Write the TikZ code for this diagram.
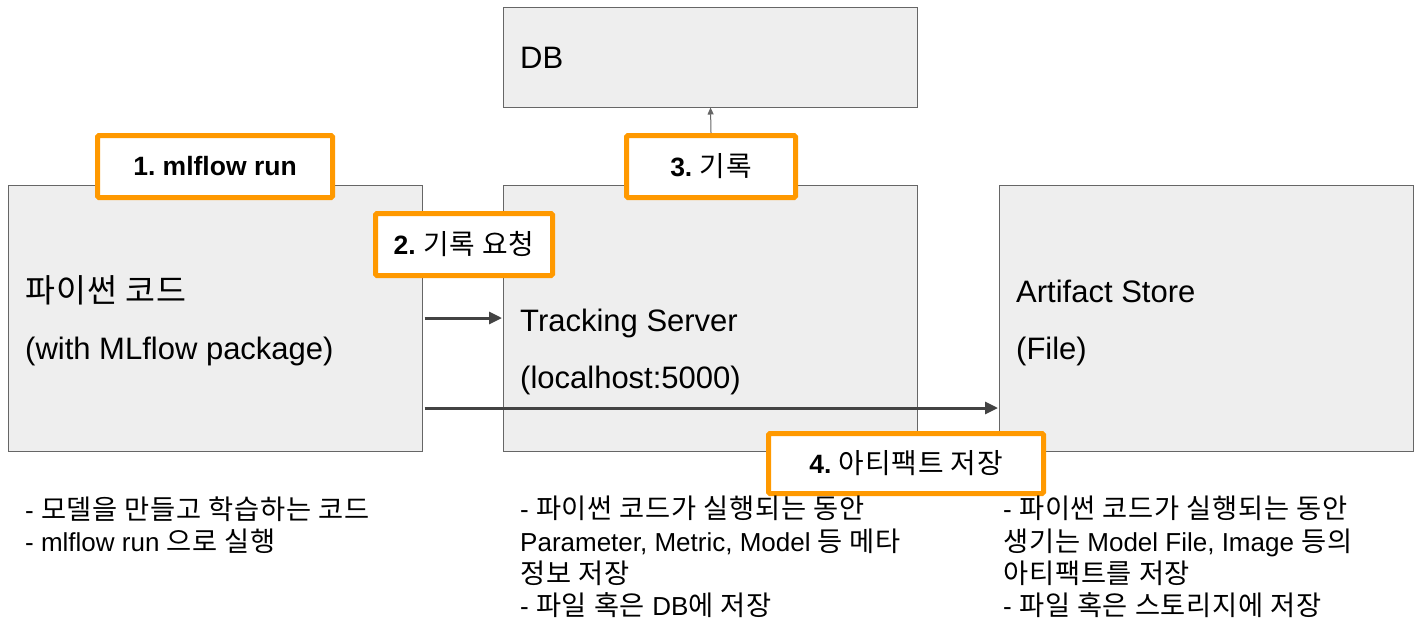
\documentclass[tikz,border=0pt]{standalone}
\usepackage{fontspec}
\setmainfont{Liberation Sans}
\newfontfamily\kr[Scale=1.05,LetterSpace=3]{Noto Sans CJK KR}
\newcommand\hk[1]{{\kr #1}}
\frenchspacing
\usetikzlibrary{arrows.meta}
\definecolor{boxfill}{HTML}{EEEEEE}
\definecolor{boxline}{HTML}{666666}
\definecolor{orng}{HTML}{FF9900}
\definecolor{arr}{HTML}{434343}
\tikzset{
  bigbox/.style={draw=boxline, line width=1pt, fill=boxfill, rectangle, inner sep=0pt, minimum width=414pt},
  lbl/.style={draw=orng, line width=5pt, fill=white, rectangle, rounded corners=1.5pt, inner sep=0pt, minimum height=62pt, font=\fontsize{26.5}{30}\selectfont},
  bigtxt/.style={anchor=base west, inner sep=0pt, font=\fontsize{31}{36}\selectfont},
  note/.style={anchor=base west, inner sep=0pt, font=\fontsize{26}{30}\selectfont},
  thick arrow/.style={draw=arr, line width=3pt, -{Triangle[length=13pt,width=12pt]}, shorten <=2pt, shorten >=1pt},
  thin arrow/.style={draw=boxline, line width=1pt, -{Triangle[length=7pt,width=6pt]}}
}
\begin{document}
\begin{tikzpicture}[x=1pt,y=-1pt]
\useasboundingbox[fill=white] (0,0) rectangle (1418,630);
% main boxes
\node[bigbox, minimum height=100pt] (db) at (710.5,57) {};
\node[bigbox, minimum height=266pt] (py) at (215,318) {};
\node[bigbox, minimum height=266pt] (ts) at (710.5,318) {};
\node[bigbox, minimum height=266pt] (art) at (1206.5,318) {};
% box texts
\node[bigtxt] (tdb) at (520,68) {DB};
\node[bigtxt] (tpy1) at (25,302) {\hk{파이썬 코드}};
\node[bigtxt] (tpy2) at (25,359) {(with MLflow package)};
\node[bigtxt] (tts1) at (520,331) {Tracking Server};
\node[bigtxt] (tts2) at (520,388) {(localhost:5000)};
\node[bigtxt] (tart1) at (1016,302) {Artifact Store};
\node[bigtxt] (tart2) at (1016,359) {(File)};
% arrows
\draw[thick arrow] (py.east) -- (ts.west);
\draw[thick arrow] ([yshift=-90pt]py.east) -- ([yshift=-90pt]art.west);
% labels
\node[lbl, minimum width=235pt] (l1) at (215,166.5) {\textbf{1. mlflow run}};
\node[lbl, minimum width=169pt] (l3) at (711,166.5) {\textbf{3.} \hk{기록}};
\draw[thin arrow] (l3.north) -- (db.south);
\node[lbl, minimum width=177pt] (l2) at (464,244.5) {\textbf{2.} \hk{기록 요청}};
\node[lbl, minimum width=275pt, minimum height=60pt] (l4) at (906,463.5) {\textbf{4.} \hk{아티팩트 저장}};
% notes
\node[note] (n11) at (25,519) {- \hk{모델을 만들고 학습하는 코드}};
\node[note] (n12) at (25,551) {- mlflow run \hk{으로 실행}};
\node[note] (n21) at (520,518) {- \hk{파이썬 코드가 실행되는 동안}};
\node[note] (n22) at (520,551) {Parameter, Metric, Model \hk{등 메타}};
\node[note] (n23) at (520,583) {\hk{정보 저장}};
\node[note] (n24) at (520,615) {- \hk{파일 혹은} DB\hk{에 저장}};
\node[note] (n31) at (1003,518) {- \hk{파이썬 코드가 실행되는 동안}};
\node[note] (n32) at (1003,551) {\hk{생기는} Model File, Image \hk{등의}};
\node[note] (n33) at (1003,583) {\hk{아티팩트를 저장}};
\node[note] (n34) at (1003,615) {- \hk{파일 혹은 스토리지에 저장}};
\end{tikzpicture}
\end{document}
